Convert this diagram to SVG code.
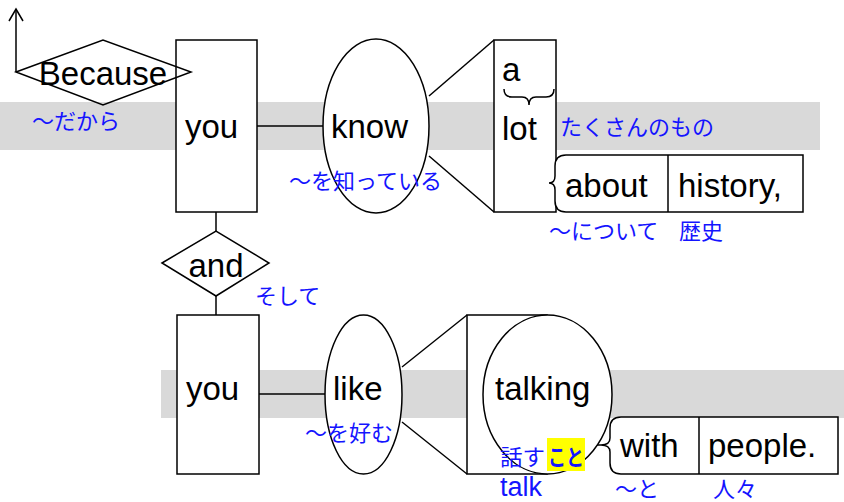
<svg xmlns="http://www.w3.org/2000/svg" width="844" height="502" viewBox="0 0 844 502">
<style>
.band{fill:#d9d9d9}
.shape{fill:#fff;stroke:#000;stroke-width:1.5}
.open{fill:none;stroke:#000;stroke-width:1.5}
.ln{fill:none;stroke:#000;stroke-width:1.5}
.en{font-family:"Liberation Sans",Arial,sans-serif;font-size:33px;fill:#000}
.jp{font-family:"Noto Sans CJK JP","Noto Sans",sans-serif;font-size:22px;fill:#1414ff}
.tr{font-family:"Liberation Sans","Noto Sans CJK JP",sans-serif;font-size:27px;fill:#1414ff}
</style>
<rect width="844" height="502" fill="#fff"/>
<rect class="band" x="0" y="102" width="820" height="48"/>
<rect class="band" x="161" y="370" width="683" height="48"/>
<g id="connectors">
<line class="ln" x1="16" y1="72" x2="16" y2="9"/>
<polyline class="ln" points="9,21 16,9 23,21"/>
<line class="ln" x1="257" y1="126" x2="323" y2="126"/>
<line class="ln" x1="429" y1="96" x2="494" y2="40"/>
<line class="ln" x1="429" y1="156" x2="494" y2="212"/>
<line class="ln" x1="216" y1="212" x2="216" y2="231"/>
<line class="ln" x1="216" y1="296" x2="216" y2="315"/>
<line class="ln" x1="259" y1="394" x2="325" y2="394"/>
<line class="ln" x1="402" y1="367" x2="467" y2="315"/>
<line class="ln" x1="402" y1="422" x2="467" y2="474"/>
<line class="ln" x1="549" y1="183" x2="542" y2="183"/>
<line class="ln" x1="601" y1="445" x2="597" y2="445"/>
</g>
<g id="you1">
<rect class="shape" x="176" y="40" width="81" height="172"/>
<text class="en" x="185" y="138">you</text>
</g>
<g id="because">
<polygon class="open" points="16,72 103,40 191,72 103,105"/>
<text class="en" x="103" y="85" text-anchor="middle">Because</text>
<text class="jp" x="32" y="129">～だから</text>
</g>
<g id="know">
<ellipse class="shape" cx="376" cy="126" rx="53" ry="87"/>
<text class="en" x="331" y="138">know</text>
<text class="jp" x="289" y="189">～を知っている</text>
</g>
<g id="alot">
<rect class="shape" x="494" y="40" width="62" height="172"/>
<text class="en" x="502" y="81">a</text>
<path class="ln" d="M504,89 Q504,97 512,97 L522,97 Q529,97 529,105 Q529,97 536,97 L546,97 Q554,97 554,89"/>
<text class="en" x="502" y="140">lot</text>
<text class="jp" x="560" y="135">たくさんのもの</text>
</g>
<g id="about">
<path class="shape" d="M803,155 L566,155 Q555,155 555,166 L555,176 Q555,183 549,183 Q555,183 555,190 L555,201 Q555,212 566,212 L803,212 Z"/>
<line class="ln" x1="668" y1="155" x2="668" y2="212"/>
<text class="en" x="565" y="197">about</text>
<text class="en" x="678" y="197">history,</text>
<text class="jp" x="549" y="239">～について</text>
<text class="jp" x="679" y="239">歴史</text>
</g>
<g id="and">
<polygon class="shape" points="162,263 216,231 269,263 216,296"/>
<text class="en" x="216" y="277" text-anchor="middle">and</text>
<text class="jp" x="255" y="304">そして</text>
</g>
<g id="you2">
<rect class="shape" x="177" y="315" width="82" height="159"/>
<text class="en" x="186" y="400">you</text>
</g>
<g id="like">
<ellipse class="shape" cx="363.5" cy="394.5" rx="38.5" ry="79.5"/>
<text class="en" x="333" y="400">like</text>
<text class="jp" x="305" y="441">～を好む</text>
</g>
<g id="talking">
<rect class="shape" x="467" y="315" width="80" height="159"/>
<ellipse class="shape" cx="547.5" cy="394.5" rx="64.5" ry="79.5"/>
<text class="en" x="495" y="400">talking</text>
<rect x="547" y="438" width="38" height="33" fill="#ffff00"/>
<text class="jp" x="500" y="465" textLength="45" lengthAdjust="spacingAndGlyphs">話す</text>
<text class="jp" x="548" y="465" font-weight="bold" textLength="36" lengthAdjust="spacingAndGlyphs">こと</text>
<text class="tr" x="500" y="496">talk</text>
</g>
<g id="with">
<path class="shape" d="M838,417 L621,417 Q610,417 610,428 L610,438 Q610,445 601,445 Q610,445 610,452 L610,463 Q610,474 621,474 L838,474 Z"/>
<line class="ln" x1="699" y1="417" x2="699" y2="474"/>
<text class="en" x="620" y="457">with</text>
<text class="en" x="708" y="457">people.</text>
<text class="jp" x="615" y="497">～と</text>
<text class="jp" x="713" y="497">人々</text>
</g>
</svg>
